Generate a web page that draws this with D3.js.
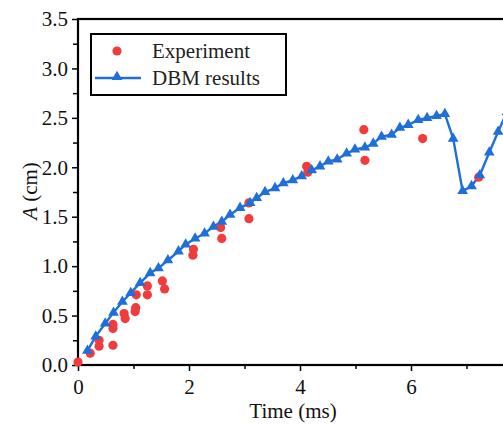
<!DOCTYPE html>
<html><head><meta charset="utf-8">
<script src="https://cdn.jsdelivr.net/npm/d3@7/dist/d3.min.js"></script>
<style>body{margin:0;background:#fff}svg{display:block}</style>
</head><body><svg id="c" width="503" height="425" font-family="Liberation Serif, Times New Roman, serif"></svg>
<script>
const expTime = [0.0,0.22,0.38,0.38,0.63,0.63,0.63,0.83,0.85,1.05,1.04,1.03,1.25,1.25,1.52,1.56,2.08,2.07,2.57,2.59,3.08,3.08,4.12,4.14,5.15,5.17,6.21,7.22];
const expA    = [0.03,0.12,0.25,0.19,0.41,0.37,0.20,0.52,0.47,0.71,0.58,0.54,0.80,0.71,0.85,0.77,1.17,1.11,1.39,1.28,1.64,1.48,2.01,1.95,2.38,2.07,2.29,1.90];
const dbmTime = [0.17,0.32,0.49,0.64,0.80,0.95,1.12,1.30,1.45,1.62,1.81,1.94,2.11,2.28,2.44,2.59,2.74,2.92,3.10,3.22,3.37,3.55,3.70,3.87,4.03,4.21,4.36,4.51,4.67,4.84,4.99,5.17,5.32,5.47,5.65,5.80,5.95,6.13,6.29,6.46,6.61,6.76,6.93,7.09,7.24,7.41,7.57,7.73];
const dbmA    = [0.145,0.29,0.42,0.53,0.64,0.73,0.83,0.93,0.98,1.06,1.15,1.22,1.28,1.33,1.40,1.45,1.52,1.59,1.64,1.69,1.75,1.79,1.84,1.87,1.91,1.97,2.01,2.06,2.08,2.14,2.18,2.20,2.24,2.31,2.33,2.40,2.43,2.48,2.50,2.52,2.54,2.29,1.76,1.81,1.92,2.15,2.36,2.56];
const xTicks = [0,2,4,6];
const xMinor = [1,3,5,7];
const yTicks = [0.0,0.5,1.0,1.5,2.0,2.5,3.0,3.5];
const yMinor = [0.25,0.75,1.25,1.75,2.25,2.75,3.25];
const seriesNames = ["Experiment","DBM results"];

const FF = "Liberation Serif, Times New Roman, serif";
const svg = d3.select("#c");
const L = 78, R = 522, T = 19, B = 365;
const x = d3.scaleLinear().domain([0,8]).range([L,R]);
const y = d3.scaleLinear().domain([0,3.5]).range([B,T]);
const red = "#f03c3c", blue = "#1f6fdb";
const fs = 21;

// axes
svg.append("g").attr("transform",`translate(0,${B})`)
  .call(d3.axisBottom(x).tickValues(xTicks).tickFormat(d3.format("d")).tickSize(6).tickSizeOuter(0).tickPadding(8));
svg.append("g").attr("transform",`translate(0,${B})`)
  .call(d3.axisBottom(x).tickValues(xMinor).tickFormat("").tickSize(4).tickSizeOuter(0));
svg.append("g").attr("transform",`translate(${L},0)`)
  .call(d3.axisLeft(y).tickValues(yTicks).tickFormat(d3.format(".1f")).tickSize(6).tickSizeOuter(0).tickPadding(4));
svg.append("g").attr("transform",`translate(${L},0)`)
  .call(d3.axisLeft(y).tickValues(yMinor).tickFormat("").tickSize(5).tickSizeOuter(0));
svg.selectAll("g").attr("font-family",FF).attr("font-size",fs);
svg.selectAll(".domain").remove();
svg.selectAll(".tick line").attr("stroke","#000").attr("stroke-width",1.5);
svg.selectAll(".tick text").attr("fill","#111").attr("font-family",FF).attr("font-size",fs);

// frame
svg.append("rect").attr("x",L).attr("y",T).attr("width",R-L).attr("height",B-T)
  .attr("fill","none").attr("stroke","#000").attr("stroke-width",2.2);

// DBM line
const line = d3.line().x((d,i)=>x(dbmTime[i])).y((d,i)=>y(dbmA[i]));
svg.append("path").datum(dbmA).attr("d",line).attr("fill","none").attr("stroke",blue).attr("stroke-width",2.4);

// experiment dots
svg.append("g").selectAll("circle").data(expA).join("circle")
  .attr("cx",(d,i)=>x(expTime[i])).attr("cy",d=>y(d)).attr("r",4.6).attr("fill",red);

// triangles
const tri = d3.symbol().type(d3.symbolTriangle).size(50);
svg.append("g").selectAll("path").data(dbmA).join("path")
  .attr("d",tri).attr("fill",blue)
  .attr("transform",(d,i)=>`translate(${x(dbmTime[i])},${y(d)})`);

// legend
const lg = svg.append("g");
lg.append("rect").attr("x",91).attr("y",34).attr("width",195).attr("height",61)
  .attr("fill","#fff").attr("stroke","#000").attr("stroke-width",2);
lg.append("circle").attr("cx",117).attr("cy",51).attr("r",4.6).attr("fill",red);
lg.append("line").attr("x1",95).attr("x2",141).attr("y1",78).attr("y2",78).attr("stroke",blue).attr("stroke-width",2.4);
lg.append("path").attr("d",tri).attr("fill",blue).attr("transform","translate(117,77)");
lg.append("text").attr("x",152).attr("y",58).attr("font-family",FF).attr("font-size",fs).attr("fill","#222").text(seriesNames[0]);
lg.append("text").attr("x",152).attr("y",85).attr("font-family",FF).attr("font-size",fs).attr("fill","#222").text(seriesNames[1]);

// axis labels
svg.append("text").attr("x",293).attr("y",418).attr("text-anchor","middle").attr("font-family",FF).attr("font-size",fs).attr("fill","#111").text("Time (ms)");
const yl = svg.append("text").attr("transform","translate(37,191) rotate(-90)").attr("text-anchor","middle").attr("font-family",FF).attr("font-size",fs).attr("fill","#111");
yl.append("tspan").attr("font-style","italic").text("A");
yl.append("tspan").text(" (cm)");
</script></body></html>
